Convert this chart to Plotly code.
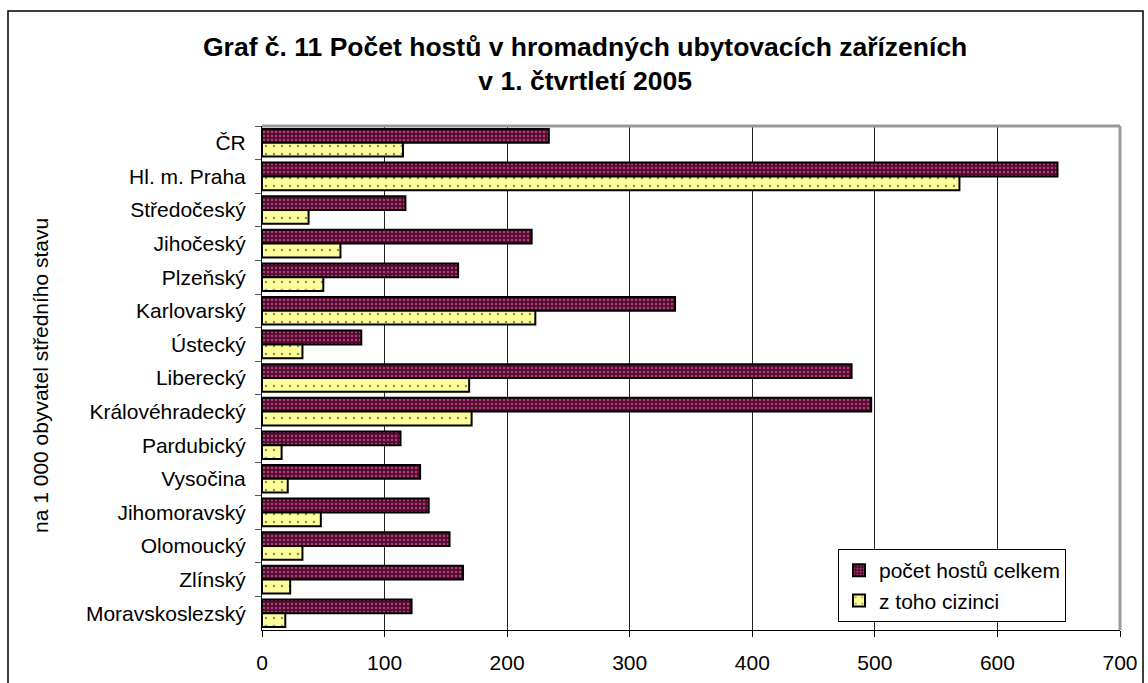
import plotly.graph_objects as go

categories = ["ČR", "Hl. m. Praha", "Středočeský", "Jihočeský", "Plzeňský", "Karlovarský",
              "Ústecký", "Liberecký", "Královéhradecký", "Pardubický", "Vysočina",
              "Jihomoravský", "Olomoucký", "Zlínský", "Moravskoslezský"]
total_guests = [234, 649, 117, 220, 160, 337, 81, 481, 497, 113, 129, 136, 153, 164, 122]
foreign_guests = [115, 569, 38, 64, 50, 223, 33, 169, 171, 16, 21, 48, 33, 23, 19]
x_ticks = [0, 100, 200, 300, 400, 500, 600, 700]

series_names = ["počet hostů celkem", "z toho cizinci"]
title_text = "Graf č. 11 Počet hostů v hromadných ubytovacích zařízeních<br>v 1. čtvrtletí 2005"
y_title = "na 1 000 obyvatel středního stavu"

FONT = "Liberation Sans, Arial, sans-serif"

fig = go.Figure()
fig.add_trace(go.Bar(
    y=categories, x=total_guests, orientation="h", name=series_names[0],
    marker=dict(color="#4e0c2e", line=dict(color="black", width=2),
                pattern=dict(shape=".", fgcolor="#b83a78", bgcolor="#4e0c2e",
                             size=4, solidity=0.3, fillmode="replace")),
))
fig.add_trace(go.Bar(
    y=categories, x=foreign_guests, orientation="h", name=series_names[1],
    marker=dict(color="#ffff99", line=dict(color="black", width=2),
                pattern=dict(shape=".", fgcolor="#8c8c60", bgcolor="#ffff99",
                             size=8, solidity=0.08, fillmode="replace")),
))

W, H = 1148, 683
L, R, T, B = 262, 1120, 126, 630
pw, ph = R - L, B - T

def px(xpix):
    return (xpix - L) / pw

def py(ypix):
    return (B - ypix) / ph

fig.update_layout(
    width=W, height=H,
    margin=dict(l=L, r=W - R, t=T, b=H - B, autoexpand=False),
    paper_bgcolor="white", plot_bgcolor="white",
    font=dict(family=FONT, color="black", size=21),
    barmode="group", bargap=0.18, bargroupgap=0.0,
    showlegend=True,
    legend=dict(x=px(838), y=py(549), xanchor="left", yanchor="top",
                bordercolor="black", borderwidth=1, bgcolor="white",
                font=dict(size=21, family=FONT), traceorder="normal",
                itemwidth=30, tracegroupgap=0),
    xaxis=dict(range=[0, 700], tickvals=x_ticks, ticktext=[str(v) for v in x_ticks],
               showgrid=True, gridcolor="#222222", gridwidth=1,
               showline=True, linecolor="black", linewidth=1, mirror=False,
               ticks="outside", ticklen=6, tickcolor="black",
               ticklabelstandoff=8, zeroline=False,
               tickfont=dict(size=21, family=FONT)),
    yaxis=dict(autorange="reversed", showline=True, linecolor="black", linewidth=1,
               ticks="outside", ticklen=6, tickcolor="#555555",
               tickson="boundaries", showgrid=False,
               ticklabelstandoff=11, tickfont=dict(size=21, family=FONT)),
    shapes=[
        dict(type="line", xref="paper", yref="paper", x0=0, x1=1, y0=1, y1=1,
             line=dict(color="#999999", width=3)),
        dict(type="line", xref="paper", yref="paper", x0=1, x1=1, y0=0, y1=1,
             line=dict(color="#999999", width=3)),
        dict(type="rect", xref="paper", yref="paper",
             x0=px(8), x1=px(1143), y0=py(695), y1=py(11),
             line=dict(color="black", width=1.5), layer="above"),
    ],
    annotations=[
        dict(text=title_text, xref="paper", yref="paper", x=px(585), y=py(64),
             showarrow=False, xanchor="center", yanchor="middle",
             font=dict(size=26.5, family=FONT, color="black", weight="bold")),
        dict(text=y_title, xref="paper", yref="paper", x=px(40), y=py(376),
             textangle=-90, showarrow=False, xanchor="center", yanchor="middle",
             font=dict(size=21, family=FONT, color="black")),
    ],
)

fig.write_html("out.html", config={"displayModeBar": False},
               post_script="document.body.style.margin='0px';document.body.style.overflow='hidden';")
